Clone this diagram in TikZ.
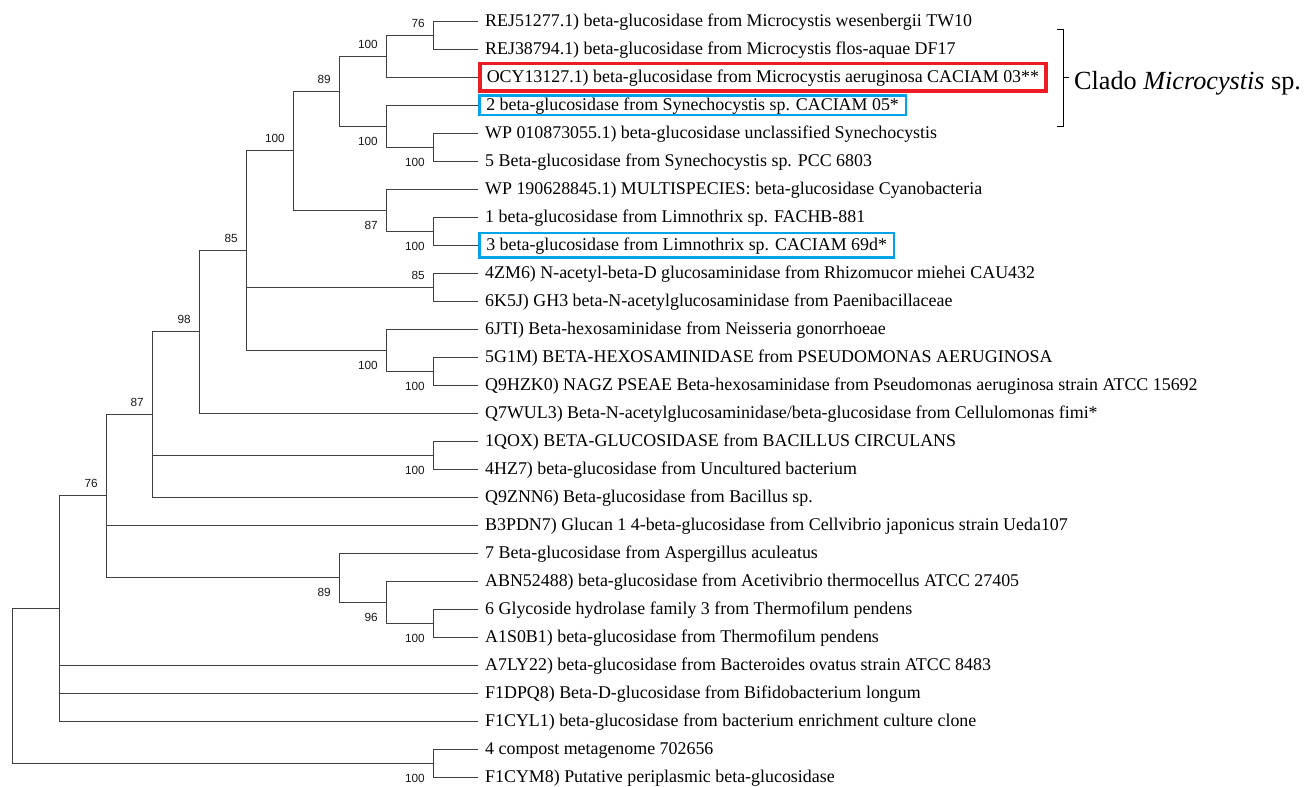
\documentclass[tikz,border=0pt]{standalone}
\usepackage{fontspec}
\setmainfont{Liberation Serif}
\newfontfamily\bootfont{Liberation Sans}
\definecolor{boxred}{RGB}{237,28,36}
\definecolor{boxblue}{RGB}{0,162,232}
\tikzset{
  branch/.style={line width=1pt, black!75},
  leaf/.style={anchor=west, inner xsep=7pt, inner ysep=0pt, text height=11.8pt,
    text depth=0pt, font=\fontsize{17.9}{20}\selectfont},
  redbox/.style={draw=boxred, line width=3.5pt, minimum height=27.5pt},
  bluebox/.style={draw=boxblue, line width=2.5pt, minimum height=19.5pt},
  box3/.style={redbox},
  box4/.style={bluebox},
  box9/.style={bluebox, minimum height=24.5pt},
  bs/.style={anchor=east, inner sep=0pt, xshift=-8pt, text=black!90,
    font=\bootfont\fontsize{11.8}{13}\selectfont},
  bsup/.style={bs, yshift=12pt},
  bsdown/.style={bs, yshift=-15pt},
}
\begin{document}
\begin{tikzpicture}[x=1pt, y=-1pt]
\useasboundingbox (0,0) rectangle (1310,787);

% leaves
\foreach \txt [count=\i] in {
  {REJ51277.1) beta-glucosidase from Microcystis wesenbergii TW10},
  {REJ38794.1) beta-glucosidase from Microcystis flos-aquae DF17},
  {OCY13127.1) beta-glucosidase from Microcystis aeruginosa CACIAM 03**},
  {2 beta-glucosidase from Synechocystis sp. CACIAM 05*},
  {WP 010873055.1) beta-glucosidase unclassified Synechocystis},
  {5 Beta-glucosidase from Synechocystis sp. PCC 6803},
  {WP 190628845.1) MULTISPECIES: beta-glucosidase Cyanobacteria},
  {1 beta-glucosidase from Limnothrix sp. FACHB-881},
  {3 beta-glucosidase from Limnothrix sp. CACIAM 69d*},
  {4ZM6) N-acetyl-beta-D glucosaminidase from Rhizomucor miehei CAU432},
  {6K5J) GH3 beta-N-acetylglucosaminidase from Paenibacillaceae},
  {6JTI) Beta-hexosaminidase from Neisseria gonorrhoeae},
  {5G1M) BETA-HEXOSAMINIDASE from PSEUDOMONAS AERUGINOSA},
  {Q9HZK0) NAGZ PSEAE Beta-hexosaminidase from Pseudomonas aeruginosa strain ATCC 15692},
  {Q7WUL3) Beta-N-acetylglucosaminidase/beta-glucosidase from Cellulomonas fimi*},
  {1QOX) BETA-GLUCOSIDASE from BACILLUS CIRCULANS},
  {4HZ7) beta-glucosidase from Uncultured bacterium},
  {Q9ZNN6) Beta-glucosidase from Bacillus sp.},
  {B3PDN7) Glucan 1 4-beta-glucosidase from Cellvibrio japonicus strain Ueda107},
  {7 Beta-glucosidase from Aspergillus aculeatus},
  {ABN52488) beta-glucosidase from Acetivibrio thermocellus ATCC 27405},
  {6 Glycoside hydrolase family 3 from Thermofilum pendens},
  {A1S0B1) beta-glucosidase from Thermofilum pendens},
  {A7LY22) beta-glucosidase from Bacteroides ovatus strain ATCC 8483},
  {F1DPQ8) Beta-D-glucosidase from Bifidobacterium longum},
  {F1CYL1) beta-glucosidase from bacterium enrichment culture clone},
  {4 compost metagenome 702656},
  {F1CYM8) Putative periplasmic beta-glucosidase}}
  \node[leaf, box\i/.try] (l\i) at (478,{21+28*(\i-1)}) {\txt};

% internal nodes
\coordinate (n12) at (433,35);
\coordinate (n13) at (386,56);
\coordinate (n56) at (433,147);
\coordinate (n46) at (386,126);
\coordinate (n16) at (339,91);
\coordinate (n89) at (433,231);
\coordinate (n79) at (386,210);
\coordinate (n19) at (293,150.5);
\coordinate (n1011) at (433,287);
\coordinate (n1314) at (433,371);
\coordinate (n1214) at (386,350);
\coordinate (n114) at (246,250.25);
\coordinate (n115) at (199,331.6);
\coordinate (n1617) at (433,455);
\coordinate (n118) at (152,414.3);
\coordinate (n2223) at (433,623);
\coordinate (n2123) at (386,602);
\coordinate (n2023) at (339,577.5);
\coordinate (n123) at (106,495.9);
\coordinate (n126) at (59,608.5);
\coordinate (n2728) at (433,763);
\coordinate (root) at (12,685.75);

% branches
\draw[branch]
  (n12) |- (l1.west) (n12) |- (l2.west)
  (n13) |- (n12) (n13) |- (l3.west)
  (n56) |- (l5.west) (n56) |- (l6.west)
  (n46) |- (l4.west) (n46) |- (n56)
  (n16) |- (n13) (n16) |- (n46)
  (n89) |- (l8.west) (n89) |- (l9.west)
  (n79) |- (l7.west) (n79) |- (n89)
  (n19) |- (n16) (n19) |- (n79)
  (n1011) |- (l10.west) (n1011) |- (l11.west)
  (n1314) |- (l13.west) (n1314) |- (l14.west)
  (n1214) |- (l12.west) (n1214) |- (n1314)
  (n114) |- (n19) (n114) |- (n1011) (n114) |- (n1214)
  (n115) |- (n114) (n115) |- (l15.west)
  (n1617) |- (l16.west) (n1617) |- (l17.west)
  (n118) |- (n115) (n118) |- (n1617) (n118) |- (l18.west)
  (n2223) |- (l22.west) (n2223) |- (l23.west)
  (n2123) |- (l21.west) (n2123) |- (n2223)
  (n2023) |- (l20.west) (n2023) |- (n2123)
  (n123) |- (n118) (n123) |- (l19.west) (n123) |- (n2023)
  (n126) |- (n123) (n126) |- (l24.west) (n126) |- (l25.west) (n126) |- (l26.west)
  (n2728) |- (l27.west) (n2728) |- (l28.west)
  (root) |- (n126) (root) |- (n2728);

% bootstrap values
\node[bsup] (b12) at (n12) {76};
\node[bsup] (b13) at (n13) {100};
\node[bsdown] (b56) at (n56) {100};
\node[bsdown] (b46) at (n46) {100};
\node[bsup] (b16) at (n16) {89};
\node[bsdown] (b89) at (n89) {100};
\node[bsdown] (b79) at (n79) {87};
\node[bsup] (b19) at (n19) {100};
\node[bsup] (b1011) at (n1011) {85};
\node[bsdown] (b1314) at (n1314) {100};
\node[bsdown] (b1214) at (n1214) {100};
\node[bsup] (b114) at (n114) {85};
\node[bsup] (b115) at (n115) {98};
\node[bsdown] (b1617) at (n1617) {100};
\node[bsup] (b118) at (n118) {87};
\node[bsdown] (b2223) at (n2223) {100};
\node[bsdown] (b2123) at (n2123) {96};
\node[bsdown] (b2023) at (n2023) {89};
\node[bsup] (b123) at (n123) {76};
\node[bsdown] (b2728) at (n2728) {100};

% clade bracket
\coordinate (bt) at (1063,29);
\coordinate (bb) at (1063,126);
\coordinate (bm) at (1063,77);
\draw[line width=1pt] ([xshift=-6pt]bt) -- (bt) -- (bb) -- ([xshift=-6pt]bb);
\node[anchor=west, inner xsep=11pt, inner ysep=0pt, text height=17pt, text depth=0pt,
  font=\fontsize{26.2}{30}\selectfont] (clado) at (1063,81) {Clado \textit{Microcystis} sp.};
\draw[line width=1pt] (bm) -- ++(6,0);
\end{tikzpicture}
\end{document}
